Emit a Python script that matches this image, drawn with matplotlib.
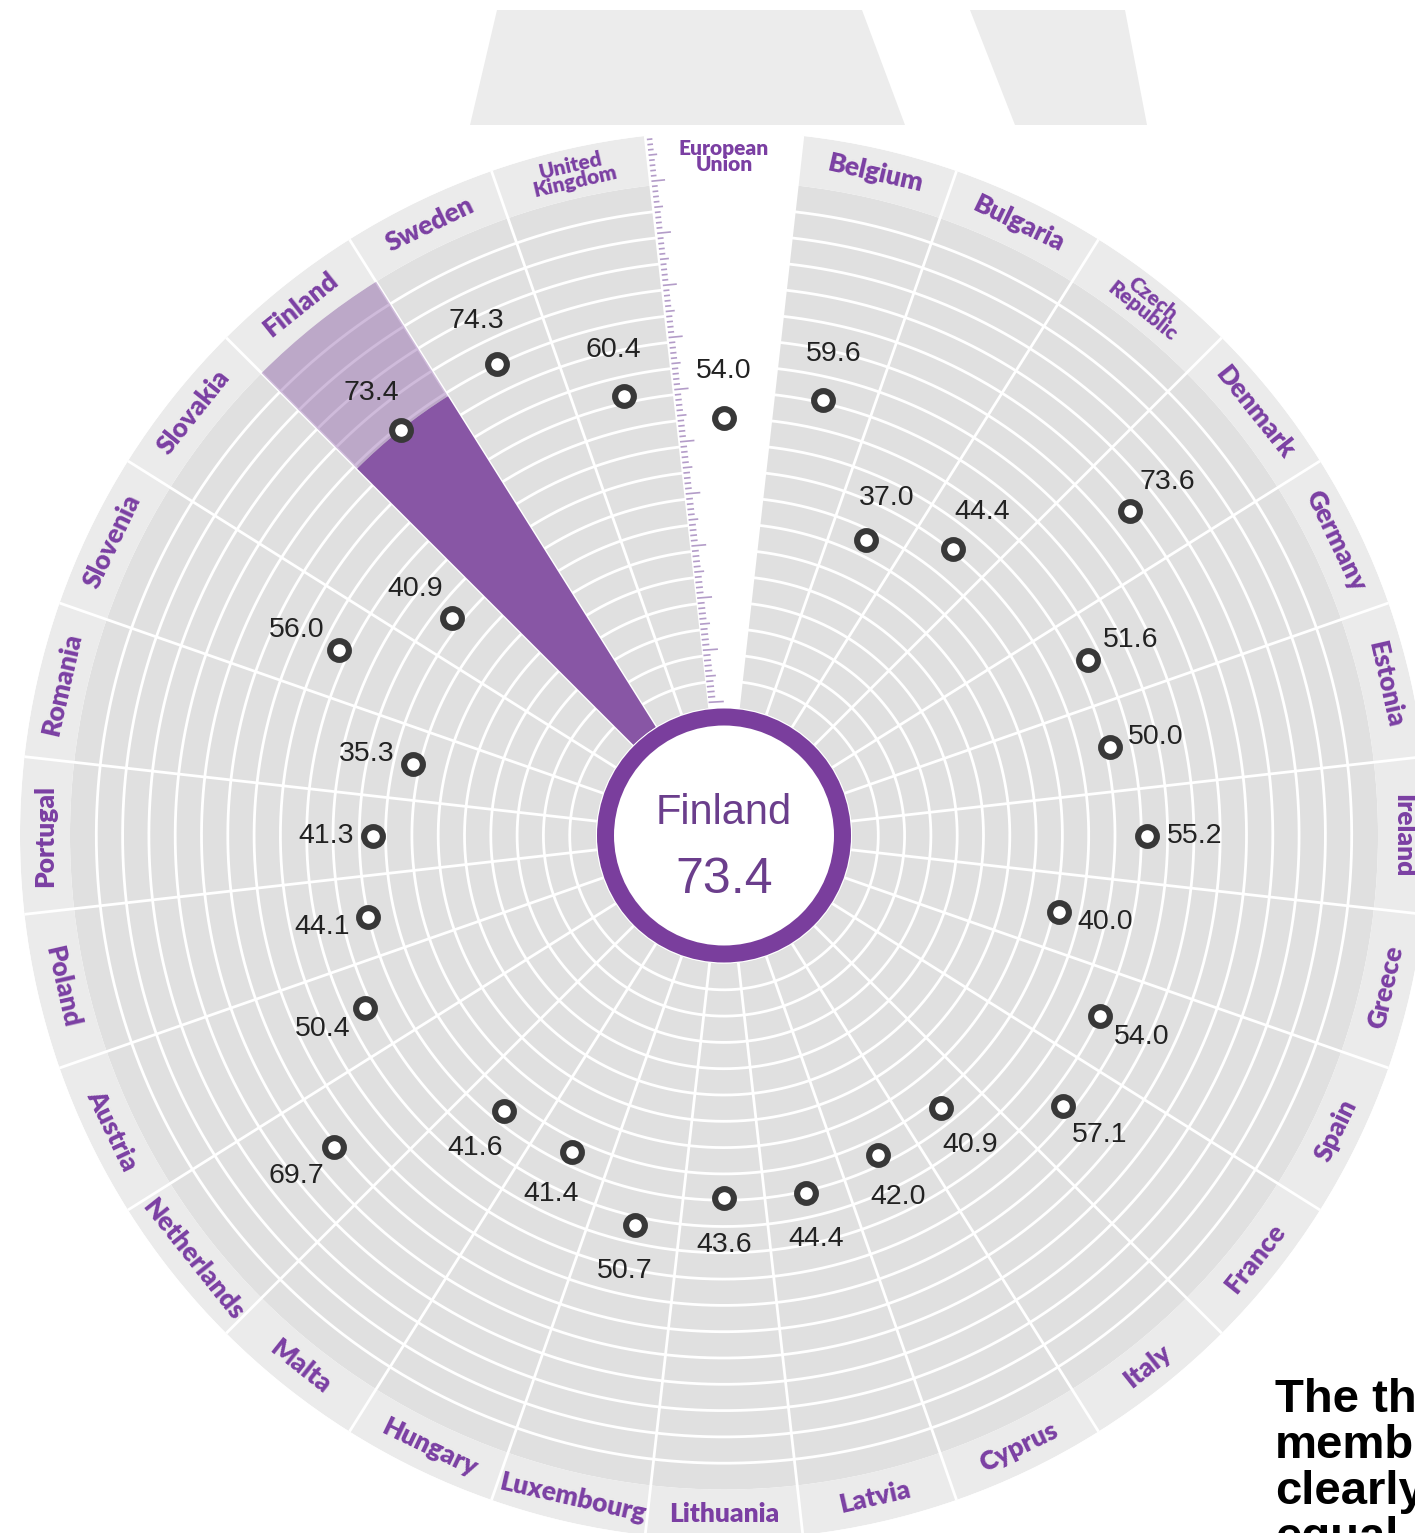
import numpy as np
import matplotlib
matplotlib.use('Agg')
import matplotlib.pyplot as plt
from matplotlib.patches import Circle, Polygon

# Gender Equality Index scores, clockwise from the top
countries = ['European\nUnion', 'Belgium', 'Bulgaria', 'Czech\nRepublic', 'Denmark', 'Germany',
             'Estonia', 'Ireland', 'Greece', 'Spain', 'France', 'Italy', 'Cyprus', 'Latvia',
             'Lithuania', 'Luxembourg', 'Hungary', 'Malta', 'Netherlands', 'Austria', 'Poland',
             'Portugal', 'Romania', 'Slovenia', 'Slovakia', 'Finland', 'Sweden', 'United\nKingdom']
scores = [54.0, 59.6, 37.0, 44.4, 73.6, 51.6, 50.0, 55.2, 40.0, 54.0, 57.1, 40.9, 42.0, 44.4,
          43.6, 50.7, 41.4, 41.6, 69.7, 50.4, 44.1, 41.3, 35.3, 56.0, 40.9, 73.4, 74.3, 60.4]
selected = 'Finland'

W, H = 1415, 1533
cx, cy = 724, 835.5          # centre of the wheel in pixels
R = 704                      # outer radius in pixels
ppu = 5.243                  # pixels per score unit
r0 = 134                     # pixel radius of score 0

r_origin = -r0 / ppu
r_max = (R - r0) / ppu
r_in = (128 - r0) / ppu
r_band = (654 - r0) / ppu
r_lab = (679 - r0) / ppu

purple = '#8856a5'
ring_purple = '#7a3e9d'
label_purple = '#7b3fa3'

fig = plt.figure(figsize=(W / 100, H / 100), dpi=100)

# grey shapes peeking in at the top
for pts in ([(470, 125), (497, 10), (862, 10), (905, 125)],
            [(1015, 125), (970, 10), (1125, 10), (1147, 125)]):
    fig.patches.append(Polygon([(x / W, 1 - y / H) for x, y in pts], closed=True,
                               transform=fig.transFigure, facecolor='#ececec',
                               edgecolor='none', zorder=0))

ax = fig.add_axes([(cx - R) / W, (H - cy - R) / H, 2 * R / W, 2 * R / H], projection='polar')
ax.set_theta_zero_location('N')
ax.set_theta_direction(-1)
ax.set_rorigin(r_origin)
ax.set_ylim(r_in, r_max)
ax.axis('off')

n = len(countries)
width = 2 * np.pi / n
theta = np.arange(n) * width
is_eu = [c.startswith('European') for c in countries]
eu = is_eu.index(True)

inner_cols = ['white' if e else '#e0e0e0' for e in is_eu]
band_cols = ['white' if e else '#ebebeb' for e in is_eu]
ax.bar(theta, r_band - r_in, bottom=r_in, width=width, color=inner_cols, linewidth=0, zorder=1)
ax.bar(theta, r_max - r_band, bottom=r_band, width=width, color=band_cols, linewidth=0, zorder=1)

# ring lines and sector boundaries
tt = np.linspace(0, 2 * np.pi, 1000)
for rr in np.linspace(r_in, r_band, 21)[1:-1]:
    ax.plot(tt, np.full_like(tt, rr), color='white', lw=2, zorder=2)
for e in theta - width / 2:
    ax.plot([e, e], [r_in, r_max], color='white', lw=2, zorder=2)

# ruler ticks on the left edge of the EU sector
edge = theta[eu] - width / 2
for v in range(0, 109):
    L = 14 if v % 10 == 0 else (9 if v % 5 == 0 else 6)
    dth = L / ((v - r_origin) * ppu)
    ax.plot([edge + 0.003, edge + dth], [v, v], color='#b39cc8', lw=1.2, zorder=2)

# highlighted country
k = countries.index(selected)
ax.bar(theta[k], scores[k] - r_in, bottom=r_in, width=width, color=purple, linewidth=0, zorder=3)
ax.bar(theta[k], r_band - scores[k], bottom=scores[k], width=width, color=purple, alpha=0.4,
       linewidth=0, zorder=3)

# markers and value labels
ax.plot(theta, scores, 'o', ms=13.5, mfc='white', mec='#383838', mew=4.4, zorder=5, clip_on=False)
for t, s in zip(theta, scores):
    ax.text(t, s + 47 / ppu, f'{s:.1f}', ha='center', va='center', fontsize=20.5,
            color='#222222', family='Liberation Sans', zorder=6)

# country labels around the rim
for t, c in zip(theta, countries):
    deg = np.degrees(t)
    rot = -deg if np.cos(t) > -1e-6 else 180 - deg
    two = '\n' in c
    ax.text(t, r_lab, c, rotation=rot, rotation_mode='anchor', ha='center', va='center',
            fontsize=15 if two else 19, linespacing=0.8, fontweight='heavy',
            family='Lato', color=label_purple, zorder=6)

# centre badge
ax.add_patch(Circle((0.5, 0.5), 118.5 / (2 * R), transform=ax.transAxes, facecolor='white',
                    edgecolor=ring_purple, lw=17 * 0.72, clip_on=False, zorder=7))
ax.text(0.5, 0.5 + 22.5 / (2 * R), selected, transform=ax.transAxes, ha='center', va='center',
        fontsize=30, color='#6b3e8c', family='Liberation Sans', zorder=8)
ax.text(0.5, 0.5 - 44.5 / (2 * R), f'{scores[k]:.1f}', transform=ax.transAxes, ha='center',
        va='center', fontsize=36, color='#6b3e8c', family='Liberation Sans', zorder=8)

# cut-off caption at the bottom right
for i, line in enumerate(['The three', 'member', 'clearly', 'equal']):
    fig.text(1275 / W, 1 - (1412 + 46 * i) / H, line, ha='left', va='baseline', fontsize=34,
             fontweight='bold', family='Liberation Sans', color='black')

fig.savefig('out.png', dpi=100)
